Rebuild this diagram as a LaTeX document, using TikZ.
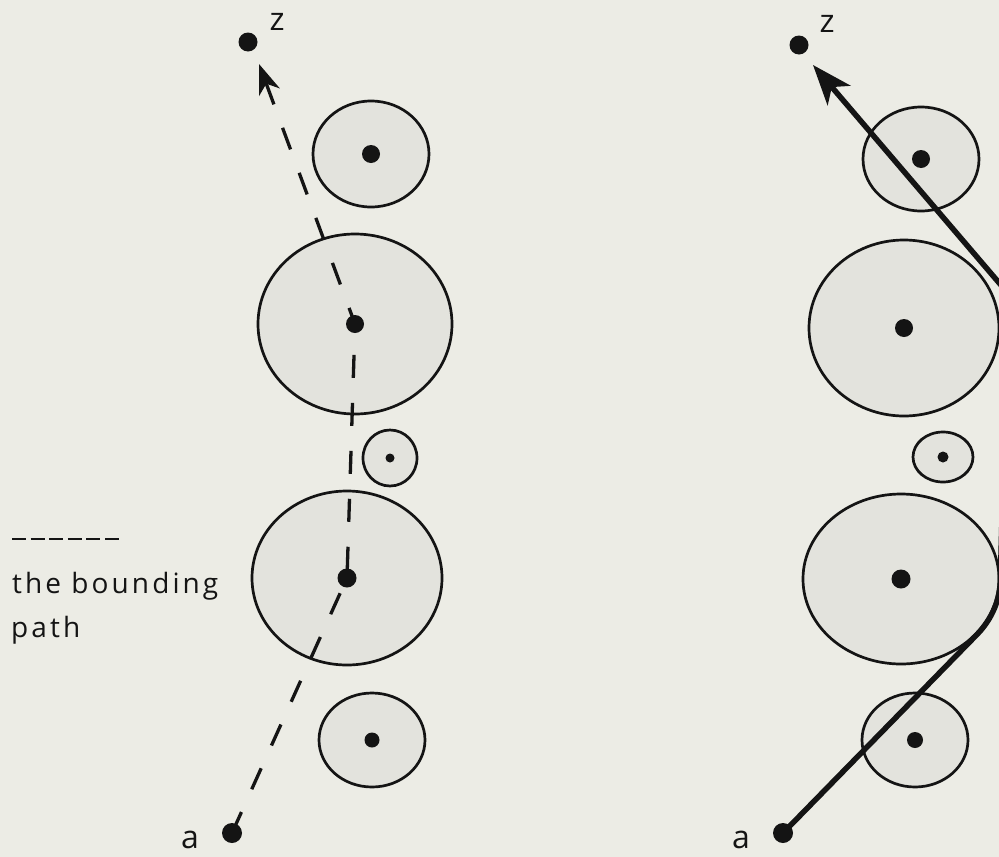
\documentclass[tikz,border=0pt]{standalone}
\usepackage{fontspec}
\setmainfont{Open Sans}
\newfontfamily\keyfont{Open Sans}[LetterSpace=11]
\usetikzlibrary{arrows.meta,shapes.geometric}
\definecolor{paper}{RGB}{236,236,229}
\definecolor{disc}{RGB}{227,227,221}
\definecolor{ink}{RGB}{20,20,20}
\begin{document}
\begin{tikzpicture}[x=1pt, y=-1pt,
  blob/.style={ellipse, draw=ink, line width=2.7pt, fill=disc, inner sep=0pt},
  seed/.style={circle, fill=ink, inner sep=0pt, minimum size=#1},
  lbl/.style={font=\fontsize{32}{36}\selectfont, text=ink, inner sep=0pt},
  keytxt/.style={font=\keyfont\fontsize{28}{34}\selectfont, text=ink, inner sep=0pt, anchor=base west},
  trail/.style={draw=ink, line width=3.3pt, dash pattern=on 23pt off 25pt},
  bound/.style={draw=ink, line width=5.5pt, line join=round}]
  \useasboundingbox (0,0) rectangle (999,857);
  \clip (0,0) rectangle (999,857);
  \fill[paper] (0,0) rectangle (999,857);

  \foreach \n/\cx/\cy/\rx/\ry/\d in {1/371/154/58/53/18, 2/355/324/97/90/18, 3/390/458/27/28/9, 4/347/578/95/87/19, 5/372/740/53/47/15}{
    \node[blob, minimum width=2*\rx, minimum height=2*\ry] (l\n) at (\cx,\cy) {};
    \node[seed=\d] (l\n c) at (l\n.center) {};
  }
  \foreach \n/\cx/\cy/\rx/\ry/\d in {1/921/159/58/52/18, 2/904/328/95/88/18, 3/943/457/30/25/11, 4/901/579/98/85/19, 5/915/740/53/47/16}{
    \node[blob, minimum width=2*\rx, minimum height=2*\ry] (r\n) at (\cx,\cy) {};
    \node[seed=\d] (r\n c) at (r\n.center) {};
  }

  \node[seed=19pt] (lz) at (248,42) {};
  \node[seed=20pt] (la) at (232,833) {};
  \node[seed=19pt] (rz) at (799,45) {};
  \node[seed=20pt] (ra) at (783,833) {};
  \node[lbl] (lzl) at (277,22) {z};
  \node[lbl] (lal) at (190,840) {a};
  \node[lbl] (rzl) at (827,24) {z};
  \node[lbl] (ral) at (741,840) {a};

  \coordinate (ltip) at (259,64);
  \coordinate (rtip) at (813,65);
  \draw[trail, -{Stealth[length=30pt,width=22pt,inset=9pt]}] (la.center) -- (l4c.center) -- (l2c.center) -- (ltip);
  \draw[bound, {Stealth[length=40pt,width=30pt,inset=11pt]}-] (rtip) -- (1012,298) -- (1003,480) -- (r4.east)
    arc[start angle=0, end angle=40, x radius=99, y radius=86] -- (ra.center);

  \coordinate (keyl) at (12,539);
  \coordinate (keyr) at (121,539);
  \draw[ink, line width=1.6pt, dash pattern=on 14pt off 4.6pt] (keyl) -- (keyr);
  \node[keytxt] (keyline1) at (12,593) {the bounding};
  \node[keytxt] (keyline2) at (11,637) {path};
\end{tikzpicture}
\end{document}
